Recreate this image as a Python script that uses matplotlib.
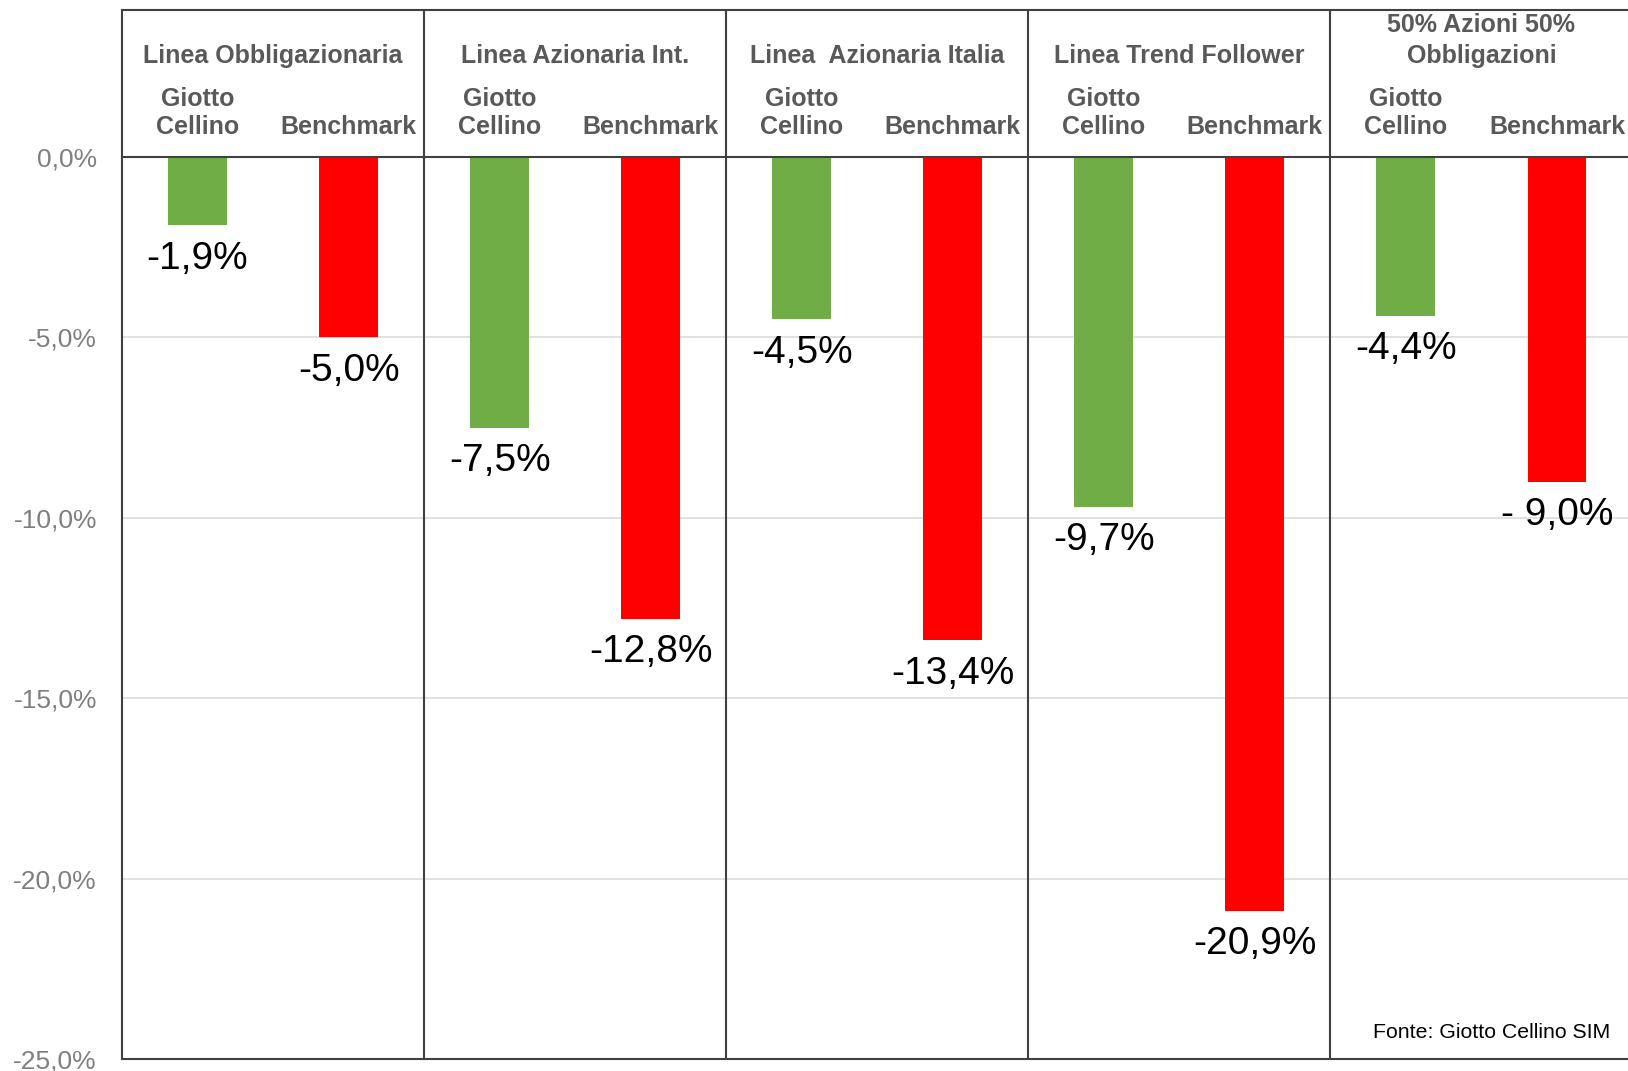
import matplotlib
matplotlib.use("Agg")
import matplotlib.pyplot as plt
import numpy as np

plt.rcParams['font.family'] = ['Liberation Sans', 'DejaVu Sans']

groups = ["Linea Obbligazionaria", "Linea Azionaria Int.", "Linea  Azionaria Italia",
          "Linea Trend Follower", "50% Azioni 50%\nObbligazioni"]
series = ["Giotto\nCellino", "Benchmark"]
giotto = [-1.9, -7.5, -4.5, -9.7, -4.4]
benchmark = [-5.0, -12.8, -13.4, -20.9, -9.0]
giotto_labels = ["-1,9%", "-7,5%", "-4,5%", "-9,7%", "-4,4%"]
bench_labels = ["-5,0%", "-12,8%", "-13,4%", "-20,9%", "- 9,0%"]
yticks = [0, -5, -10, -15, -20, -25]
ytick_labels = ["0,0%", "-5,0%", "-10,0%", "-15,0%", "-20,0%", "-25,0%"]

GREEN = '#70AD47'
RED = '#FF0000'
DARK = '#404040'
HEAD = '#595959'

fig = plt.figure(figsize=(16.28, 10.71), dpi=100)
ax = fig.add_axes([122 / 1628, 12 / 1071, 1 - 122 / 1628, (1059 - 10) / 1071])

n = len(groups)
x_g = np.arange(n) * 2
x_b = x_g + 1
w = 0.39

# grid
for y in yticks[1:-1]:
    ax.axhline(y, color='#d9d9d9', lw=1.1, zorder=0)

ax.bar(x_g, giotto, width=w, color=GREEN, zorder=2)
ax.bar(x_b, benchmark, width=w, color=RED, zorder=2)

for x, v, lab in zip(x_g, giotto, giotto_labels):
    ax.annotate(lab, (x, v), xytext=(0, -24), textcoords='offset points',
                ha='center', va='center', fontsize=28, color='black')
for x, v, lab in zip(x_b, benchmark, bench_labels):
    ax.annotate(lab, (x, v), xytext=(0, -24), textcoords='offset points',
                ha='center', va='center', fontsize=28, color='black')

# zero line and group separators
ax.axhline(0, color=DARK, lw=1.5, zorder=3)
for x in x_g[1:] - 0.5:
    ax.axvline(x, color=DARK, lw=1.5, zorder=3)

# header texts
for i, g in enumerate(groups):
    yy = 3.22 if '\n' in g else 2.80
    ax.text(x_g[i] + 0.5, yy, g, ha='center', va='center', fontsize=18,
            fontweight='bold', color=HEAD, linespacing=1.35)
    ax.text(x_g[i], 0.485, series[0], ha='center', va='bottom', fontsize=18,
            fontweight='bold', color=HEAD, linespacing=1.25)
    ax.text(x_b[i], 0.485, series[1], ha='center', va='bottom', fontsize=18,
            fontweight='bold', color=HEAD)

ax.set_xlim(-0.5, 9.47)
ax.set_ylim(-25, 4.07)
ax.set_xticks([])
ax.set_yticks(yticks)
ax.set_yticklabels(ytick_labels)
ax.tick_params(axis='y', length=0, pad=18, labelsize=19, labelcolor='#7f7f7f')

for s in ['left', 'top', 'bottom']:
    ax.spines[s].set_color(DARK)
    ax.spines[s].set_linewidth(1.5)
ax.spines['right'].set_visible(False)

fig.text(1610 / 1628, 1 - 1033 / 1071, "Fonte: Giotto Cellino SIM", ha='right',
         va='center', fontsize=15.3, color='black')

fig.savefig('out.png', dpi=100)
